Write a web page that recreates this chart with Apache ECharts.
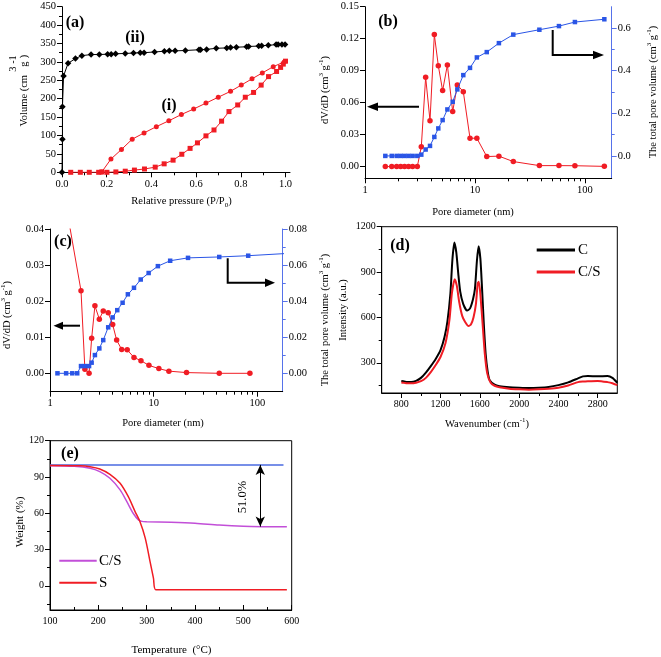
<!DOCTYPE html>
<html><head><meta charset="utf-8">
<script src="https://cdn.jsdelivr.net/npm/echarts@6/dist/echarts.min.js"></script>
<style>html,body{margin:0;padding:0;background:#fff}#c{width:661px;height:657px}</style>
</head><body><div id="c"></div>
<script>
// ---------- Panel (a): N2 isotherms ----------
const aIIx = [0,0.002,0.002,0.007,0.027,0.06,0.089,0.13,0.167,0.204,0.22,0.24,0.283,0.32,0.35,0.367,0.414,0.458,0.48,0.506,0.552,0.613,0.62,0.647,0.69,0.737,0.754,0.78,0.826,0.835,0.88,0.893,0.923,0.958,0.967,0.984,0.998];
const aIIy = [0,90,178,262,296,309,317,320,320,321,321,322,323,324,325,325,327,329,330,330,331,333,333,334,337,338,339,340,341,342,343,344,345,347,347,347,347];
const aAdsX = [0.039,0.082,0.122,0.164,0.178,0.201,0.241,0.283,0.324,0.369,0.417,0.457,0.497,0.536,0.573,0.606,0.644,0.68,0.714,0.747,0.786,0.82,0.857,0.891,0.924,0.96,0.978,0.99,1.0];
const aAdsY = [0,0,0,0,1,0,1,3,6,9,14,23,33,49,65,80,99,115,139,165,183,204,217,237,260,274,285,294,302];
const aDesX = [0.178,0.219,0.266,0.314,0.367,0.422,0.478,0.534,0.589,0.644,0.699,0.754,0.802,0.85,0.896,0.945,0.994];
const aDesY = [1,36,62,90,107,124,140,157,172,188,204,220,237,254,270,287,300];
const aTicksX = [0,0.2,0.4,0.6,0.8,1.0];
const aMinorX = [0.1,0.3,0.5,0.7,0.9];

// ---------- Panel (b): pore size distribution ----------
const bDiam = [1.53,1.75,1.94,2.11,2.29,2.49,2.71,2.99,3.25,3.56,3.90,4.27,4.64,5.08,5.61,6.27,6.91,7.83,9.01,10.4,12.8,16.5,22.3,38.5,58,81,150];
const bDvdd = [0,0,0,0,0,0,0,0,0.0185,0.0838,0.0431,0.1238,0.0947,0.0713,0.0953,0.0516,0.0766,0.0703,0.0266,0.0266,0.0094,0.0098,0.0047,0.0009,0.0009,0.0008,0.0002];
const bVol = [0,0,0,0,0,0,0,0,0.006,0.03,0.047,0.089,0.129,0.168,0.218,0.254,0.312,0.379,0.413,0.462,0.487,0.529,0.569,0.592,0.609,0.628,0.641];
const bTicksL = [0,0.03,0.06,0.09,0.12,0.15];
const bTicksR = [0,0.2,0.4,0.6];
const bMinorR = [0.1,0.3,0.5];
const logMinor = [2,3,4,5,6,7,8,9,20,30,40,50,60,70,80,90];

// ---------- Panel (c) ----------
const cDiamR = [1.36,1.99,2.17,2.38,2.52,2.71,2.99,3.26,3.64,4.02,4.39,4.91,5.55,6.45,7.53,8.99,11.2,14.0,20.7,42.8,84.5];
const cDvdd = [0.05,0.0229,0.0011,0,0.0097,0.0187,0.015,0.0173,0.0168,0.0135,0.0092,0.0066,0.0065,0.0044,0.0035,0.0022,0.0013,0.0006,0.0002,0,0];
const cDiamB = [1.18,1.43,1.64,1.83,1.99,2.17,2.38,2.52,2.71,2.99,3.26,3.64,4.02,4.45,5.01,5.63,6.45,7.49,8.93,10.96,14.4,21.4,42.8,81.4,200];
const cVol = [0,0,0,0,0.004,0.004,0.004,0.0059,0.0101,0.0138,0.0184,0.0255,0.031,0.035,0.0391,0.0438,0.0474,0.052,0.0556,0.0594,0.0624,0.064,0.0645,0.0652,0.0665];
const cTicksL = [0,0.01,0.02,0.03,0.04];
const cTicksR = [0,0.02,0.04,0.06,0.08];
const cMinorR = [0.01,0.03,0.05,0.07];

// ---------- Panel (d): Raman ----------
const dWaveC = [800,830,860,900,950,1000,1050,1100,1150,1200,1240,1270,1300,1320,1340,1360,1380,1400,1430,1470,1500,1530,1550,1570,1587,1605,1620,1640,1660,1680,1700,1750,1800,1900,2000,2100,2200,2300,2400,2500,2600,2650,2700,2800,2900,2950,3000];
const dIntC = [179,176,172,172,180,200,235,278,325,385,470,575,760,980,1095,1030,890,770,690,645,660,720,790,975,1070,990,820,560,350,240,185,155,145,138,135,133,135,140,152,170,197,210,212,210,212,200,168];
const dWaveCS = [800,830,860,900,950,1000,1050,1100,1150,1200,1250,1290,1315,1343,1365,1390,1420,1450,1485,1510,1535,1560,1578,1590,1607,1630,1650,1675,1710,1750,1800,1900,2000,2100,2200,2300,2400,2500,2600,2650,2700,2800,2900,2950,3000];
const dIntCS = [170,167,164,164,168,178,200,238,285,340,430,583,759,852,810,700,610,570,543,555,600,690,825,836,737,538,362,230,168,148,138,128,124,122,124,128,135,150,172,176,178,180,172,165,152];
const dTicksX = [800,1200,1600,2000,2400,2800];
const dMinorX = [1000,1400,1800,2200,2600];
const dTicksY = [300,600,900,1200];
const dMinorY = [150,450,750,1050];

// ---------- Panel (e): TGA ----------
const eTempCS = [100,150,183,203,224,245,259,272,283,290,300,350,400,450,500,550,590];
const eWtCS = [99.3,98.8,97.2,94.4,88.9,79.3,69.6,60,54.5,53.3,53,52.6,51.8,50.2,49.2,48.9,48.8];
const eTempS = [100,163,183,203,224,245,262,276,286,297,307,314,319,590];
const eWtS = [99.5,99.3,98.5,96.6,92.2,84.8,73.7,61.4,53.1,39.4,20,6.3,-3.3,-3.3];
const eRefT = [100,583];
const eRefW = [100,100];
const eLoss = [535,100,49]; // arrow x, from, to
const eTicksY = [0,30,60,90,120];
const eMinorY = [-15,15,45,75,105];

const F = "'Liberation Serif','Times New Roman',serif";
const RED = '#f01c24', BLUE = '#2a55e6', BLUEAX = '#5672ea', MAG = '#c24fd8';
const zip = (xs, ys) => xs.map((x, i) => [x, ys[i]]);

function ax(grid, min, max, o) {
  o = o || {};
  const col = o.color || '#000';
  const a = {
    gridIndex: grid, type: o.type || 'value', min: min, max: max, position: o.position,
    axisLine: {show: o.line !== false, onZero: false, lineStyle: {color: col, width: 1}},
    axisTick: {show: true, inside: !!o.inside, length: o.minor ? 3 : 5, lineStyle: {color: col, width: 1}},
    axisLabel: {show: !o.minor, color: '#000', fontFamily: F, fontSize: o.fs || 10.5, margin: o.margin || 6},
    splitLine: {show: false}
  };
  if (o.ticks) { a.axisTick.customValues = o.ticks; a.axisLabel.customValues = o.ticks; }
  if (o.interval) a.interval = o.interval;
  a.axisLabel.formatter = o.fmt || (v => String(v));
  if (o.logBase) { a.logBase = o.logBase; a.axisLabel.showMaxLabel = false; }
  if (o.minorSplit) a.minorTick = {show: true, splitNumber: o.minorSplit, length: 3, lineStyle: {color: col}};
  return a;
}
const LMAX = 175;
const logMinorPos = logMinor.filter(v => v < LMAX).map(v => Math.log10(v));
const f1 = v => v.toFixed(1), f2 = v => v.toFixed(2);

const xAxis = [
  ax(0, 0, 1.02, {ticks: aTicksX, fmt: f1, position: 'bottom'}),
  ax(0, 0, 1.02, {ticks: aMinorX, minor: true, line: false, position: 'bottom'}),
  ax(1, 1, LMAX, {type: 'log', logBase: 10, position: 'bottom'}),
  ax(1, 0, Math.log10(LMAX), {ticks: logMinorPos, minor: true, line: false, position: 'bottom'}),
  ax(2, 1, LMAX, {type: 'log', logBase: 10, position: 'bottom'}),
  ax(2, 0, Math.log10(LMAX), {ticks: logMinorPos, minor: true, line: false, position: 'bottom'}),
  ax(3, 600, 3000, {ticks: dTicksX, fs: 10, position: 'bottom'}),
  ax(3, 600, 3000, {ticks: dMinorX, minor: true, line: false, position: 'bottom'}),
  ax(4, 100, 600, {interval: 100, inside: true, minorSplit: 2, fs: 10, position: 'bottom'})
];
const yAxis = [
  ax(0, 0, 450, {interval: 50, minorSplit: 2, position: 'left'}),
  ax(1, -0.011, 0.15, {ticks: bTicksL, fmt: f2, position: 'left'}),
  ax(1, -0.105, 0.7, {ticks: bTicksR, fmt: f1, position: 'right', color: BLUEAX}),
  ax(1, -0.105, 0.7, {ticks: bMinorR, minor: true, line: false, position: 'right', color: BLUEAX}),
  ax(2, -0.0051, 0.04, {ticks: cTicksL, fmt: f2, position: 'left'}),
  ax(2, -0.0102, 0.08, {ticks: cTicksR, fmt: f2, position: 'right', color: BLUEAX}),
  ax(2, -0.0102, 0.08, {ticks: cMinorR, minor: true, line: false, position: 'right', color: BLUEAX}),
  ax(3, 100, 1200, {ticks: dTicksY, fs: 10, position: 'left'}),
  ax(3, 100, 1200, {ticks: dMinorY, minor: true, line: false, position: 'left'}),
  ax(4, -20, 120, {ticks: eTicksY, fs: 10, position: 'left'}),
  ax(4, -20, 120, {ticks: eMinorY, minor: true, line: false, position: 'left'})
];

const grid = [
  {left: 62, top: 6.7, width: 228, height: 165.6},
  {left: 365, top: 6.7, width: 246.7, height: 171.6},
  {left: 50, top: 229, width: 232.7, height: 162.7},
  {left: 381.7, top: 226.7, width: 235.6, height: 166.3, show: true, borderColor: '#000', borderWidth: 1, backgroundColor: 'transparent'},
  {left: 50, top: 440.7, width: 241.7, height: 169.3, show: true, borderColor: '#000', borderWidth: 1, backgroundColor: 'transparent'}
];

function ln(xi, yi, data, color, o) {
  o = o || {};
  return Object.assign({
    type: 'line', xAxisIndex: xi, yAxisIndex: yi, data: data,
    symbol: o.symbol || 'none', symbolSize: o.size || 5, showSymbol: !!o.symbol,
    lineStyle: {color: color, width: o.width || 1}, itemStyle: {color: color},
    smooth: o.smooth || false, z: o.z || 2, silent: true
  }, o.extra || {});
}

const series = [
  ln(0, 0, zip(aIIx, aIIy), '#000', {symbol: 'diamond', size: 6.5}),
  ln(0, 0, zip(aAdsX, aAdsY), RED, {symbol: 'rect', size: 5}),
  ln(0, 0, zip(aDesX, aDesY), RED, {symbol: 'circle', size: 5}),
  ln(2, 1, zip(bDiam, bDvdd), RED, {symbol: 'circle', size: 5.5}),
  ln(2, 2, zip(bDiam, bVol), BLUE, {symbol: 'rect', size: 4.5, z: 3}),
  ln(4, 4, zip(cDiamR, cDvdd), RED, {symbol: 'circle', size: 5.5}),
  ln(4, 5, zip(cDiamB, cVol), BLUE, {symbol: 'rect', size: 4.5, z: 3}),
  ln(6, 7, zip(dWaveC, dIntC), '#000', {width: 2, smooth: 0.2}),
  ln(6, 7, zip(dWaveCS, dIntCS), RED, {width: 2, smooth: 0.2}),
  ln(8, 9, zip(eRefT, eRefW), '#4a6ae0', {width: 1.5, extra: {
    markLine: {silent: true, symbol: ['arrow', 'arrow'], symbolSize: [7, 10], label: {show: false},
      lineStyle: {color: '#000', width: 1, type: 'solid'},
      data: [[{coord: [eLoss[0], eLoss[1]]}, {coord: [eLoss[0], eLoss[2]]}]]}}}),
  ln(8, 9, zip(eTempCS, eWtCS), MAG, {width: 1.5, smooth: 0.3}),
  ln(8, 9, zip(eTempS, eWtS), RED, {width: 1.5, smooth: 0.3})
];

// ---------- annotations ----------
const R = Math.PI / 2;
function T(x, y, text, o) {
  o = o || {};
  return {type: 'text', x: x, y: y, rotation: o.rot || 0, z: 100, silent: true,
    style: {text: text, fontFamily: F, fontSize: o.fs || 10.5, fontWeight: o.bold ? 'bold' : 'normal',
      fill: '#000', align: o.align || 'center', verticalAlign: 'middle', rich: o.rich}};
}
const RICH = {
  n: {fontFamily: F, fontSize: 10.5, lineHeight: 15, fill: '#000'},
  s: {fontFamily: F, fontSize: 7, fill: '#000', verticalAlign: 'top'},
  b: {fontFamily: F, fontSize: 7, fill: '#000', verticalAlign: 'bottom'}
};
const unitTxt = '{n|(cm}{s|3}{n| g}{s|-1}{n|)}';
function L(points, w) { return {type: 'polyline', z: 100, silent: true, shape: {points: points}, style: {stroke: '#000', lineWidth: w || 2, fill: null}}; }
function H(points) { return {type: 'polygon', z: 100, silent: true, shape: {points: points}, style: {fill: '#000'}}; }
function legLine(x1, x2, y, color, w) { return {type: 'line', z: 100, silent: true, shape: {x1: x1, y1: y, x2: x2, y2: y}, style: {stroke: color, lineWidth: w}}; }

const graphic = [
  // (a)
  T(75, 23, '(a)', {bold: true, fs: 16}),
  T(135, 38, '(ii)', {bold: true, fs: 16}),
  T(169, 106, '(i)', {bold: true, fs: 16}),
  T(24, 75, 'Volume (cm', {rot: R, align: 'right'}),
  T(24, 64, 'g', {rot: R}),
  T(24, 56.5, ')', {rot: R}),
  T(13, 69, '3', {rot: R}),
  T(13, 59.5, '-1', {rot: R}),
  T(181.5, 201.5, '{n|Relative pressure (P/P}{b|0}{n|)}', {rich: RICH}),
  // (b)
  T(388, 22, '(b)', {bold: true, fs: 16}),
  T(325, 90, '{n|dV/dD }' + unitTxt, {rot: R, rich: RICH}),
  T(653, 92, '{n|The total pore volume }' + unitTxt, {rot: R, rich: RICH}),
  T(473, 212, 'Pore diameter (nm)'),
  L([[419, 106.7], [375, 106.7]]), H([[367, 106.7], [378, 102.5], [378, 110.9]]),
  L([[552.7, 30], [552.7, 55], [595, 55]]), H([[604, 55], [593, 50.8], [593, 59.2]]),
  // (c)
  T(63, 242, '(c)', {bold: true, fs: 16}),
  T(7, 315, '{n|dV/dD }' + unitTxt, {rot: R, rich: RICH}),
  T(325, 320, '{n|The total pore volume }' + unitTxt, {rot: R, rich: RICH}),
  T(163, 423, 'Pore diameter (nm)'),
  L([[80, 325.7], [61, 325.7]]), H([[53.5, 325.7], [63, 321.7], [63, 329.7]]),
  L([[227.7, 258.3], [227.7, 282.7], [266, 282.7]]), H([[275, 282.7], [265, 278.5], [265, 286.9]]),
  // (d)
  T(400, 246, '(d)', {bold: true, fs: 16}),
  T(343, 310, 'Intensity (a.u.)', {rot: R}),
  T(487, 424, '{n|Wavenumber (cm}{s|-1}{n|)}', {rich: RICH}),
  legLine(536.7, 575, 250, '#000', 3), T(578, 250, 'C', {align: 'left', fs: 15}),
  legLine(536.7, 575, 272, RED, 3), T(578, 272, 'C/S', {align: 'left', fs: 15}),
  // (e)
  T(70, 454, '(e)', {bold: true, fs: 16}),
  T(20, 522, 'Weight (%)', {rot: R, fs: 11}),
  T(171.5, 650, 'Temperature  (\u00b0C)', {fs: 11}),
  T(243, 497, '51.0%', {rot: R, fs: 12.5}),
  legLine(59.3, 96.7, 560.7, MAG, 2), T(99, 560.7, 'C/S', {align: 'left', fs: 15}),
  legLine(59.3, 96.7, 582.7, RED, 2), T(99, 582.7, 'S', {align: 'left', fs: 15})
];

const chart = echarts.init(document.getElementById('c'), null, {renderer: 'canvas'});
chart.setOption({
  animation: false, backgroundColor: '#fff',
  grid: grid, xAxis: xAxis, yAxis: yAxis, series: series, graphic: graphic
});
</script></body></html>
